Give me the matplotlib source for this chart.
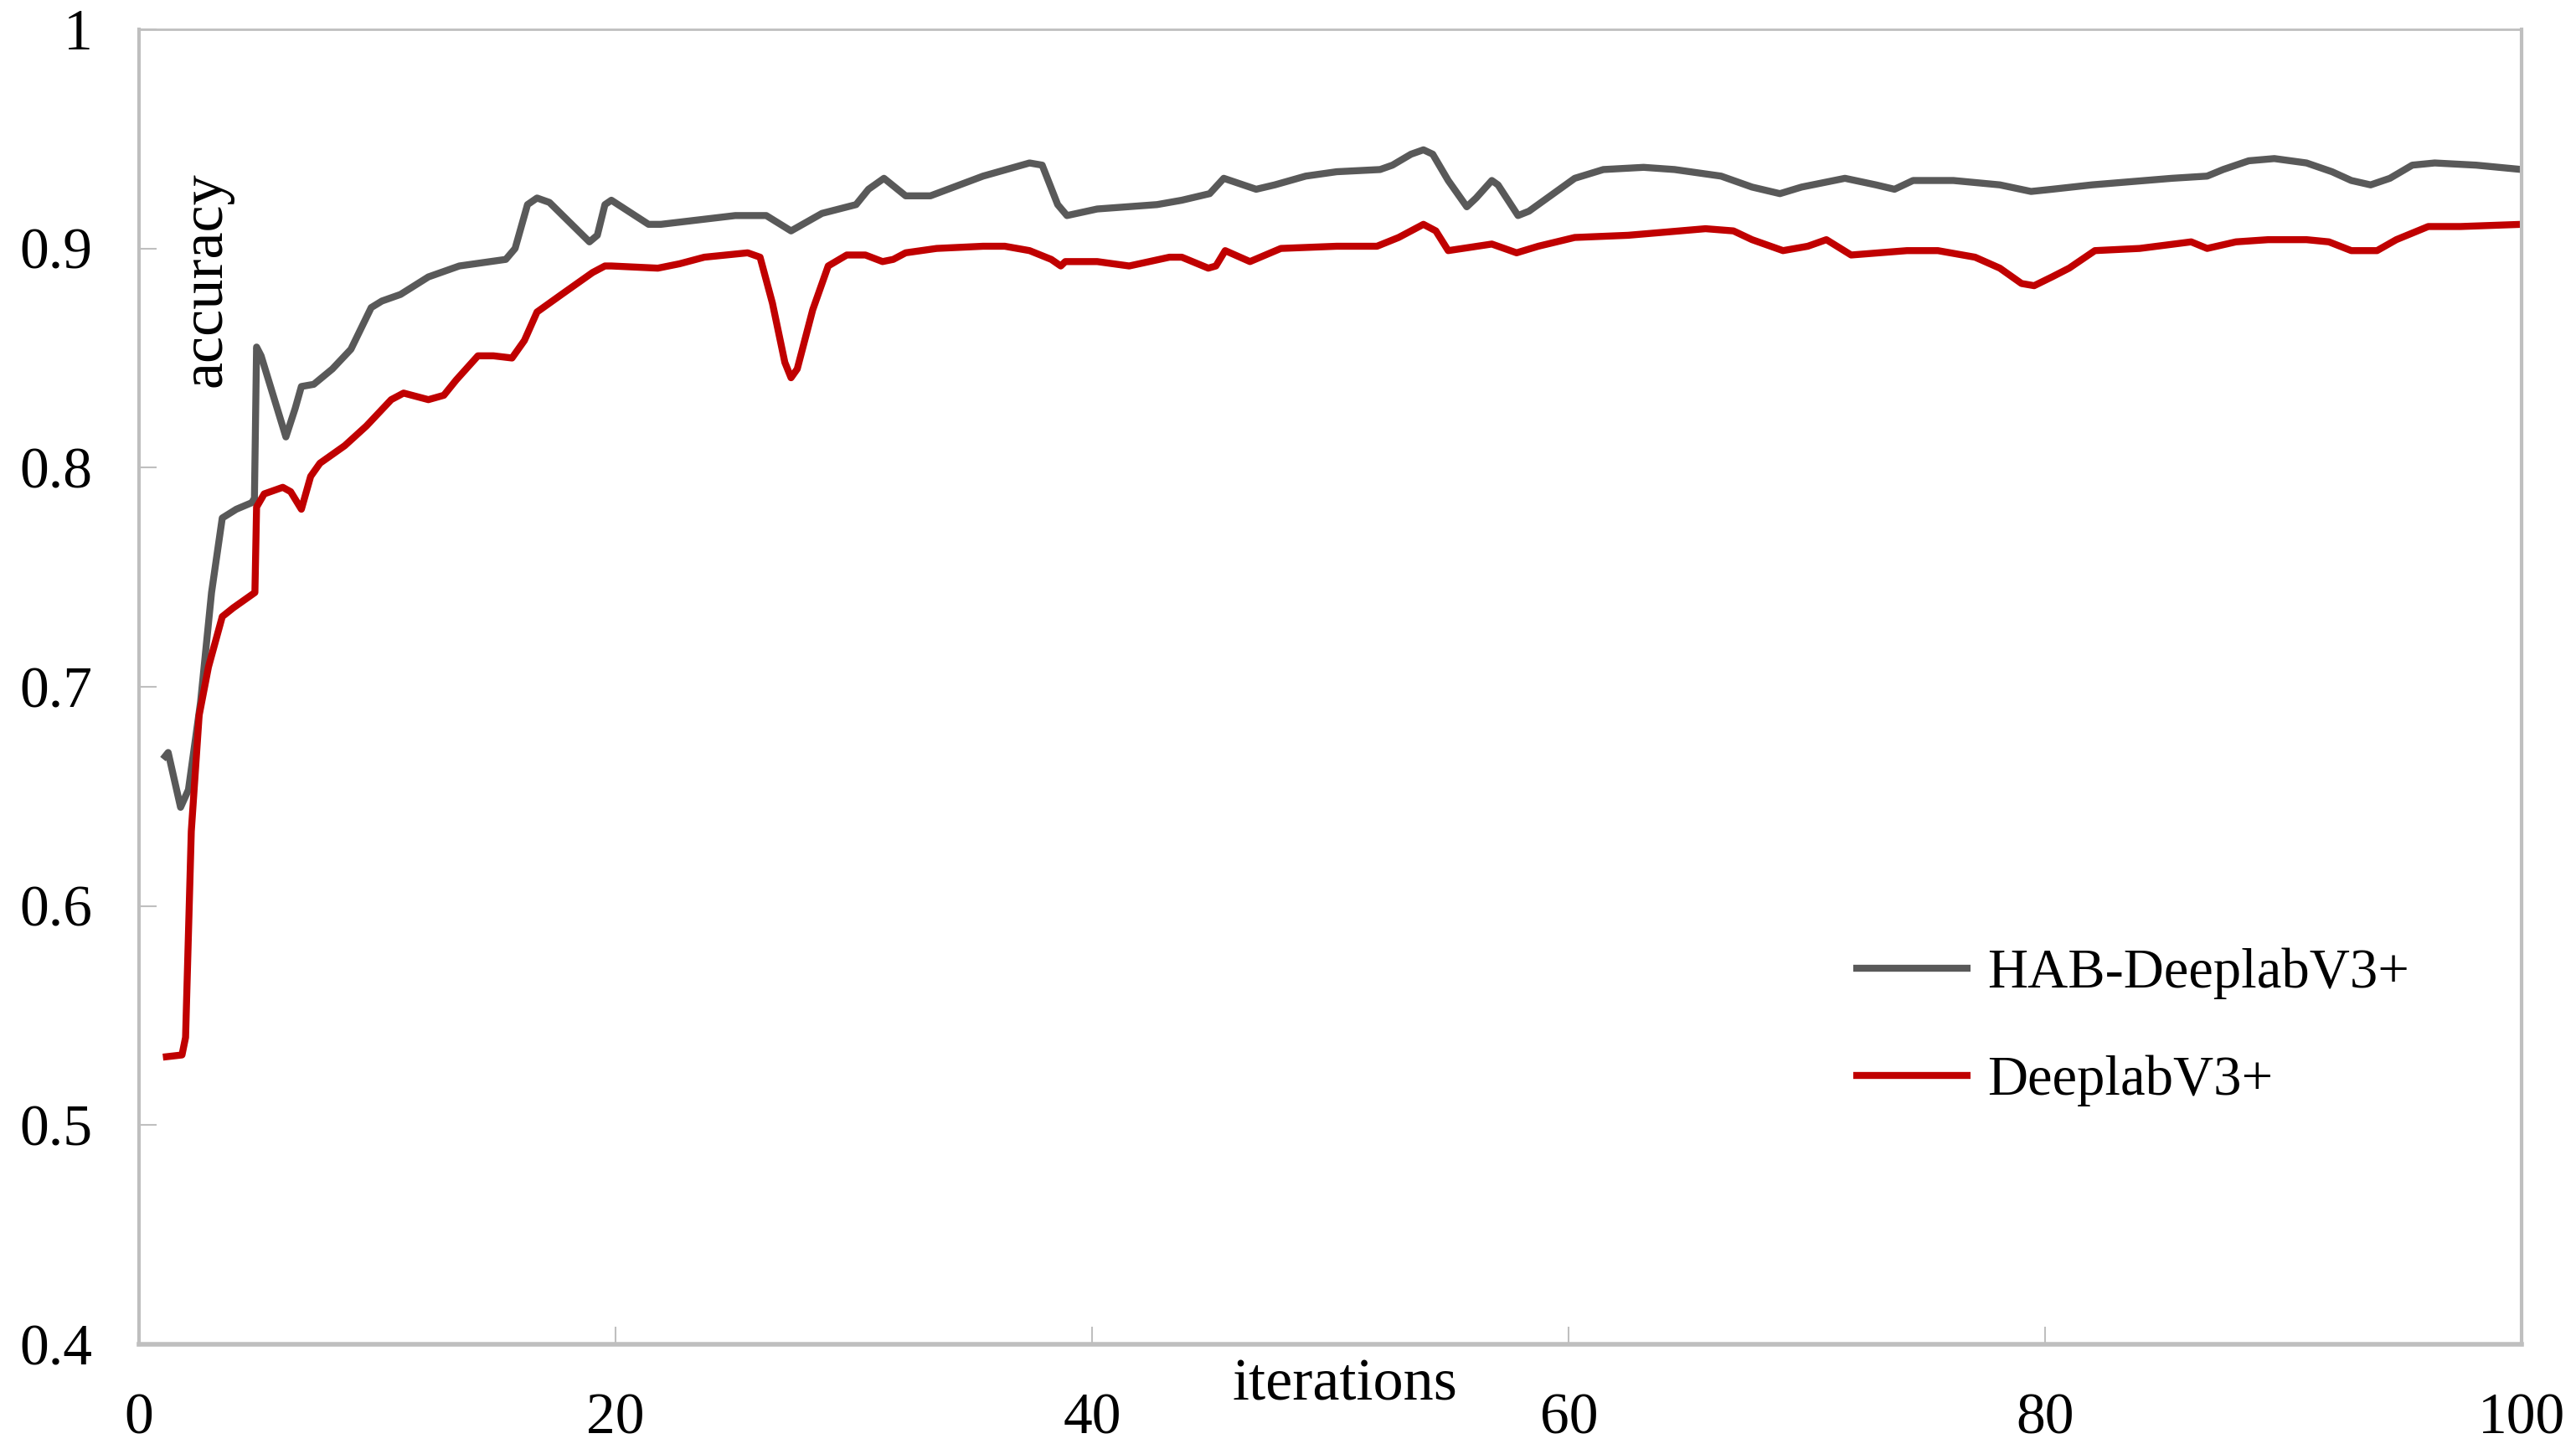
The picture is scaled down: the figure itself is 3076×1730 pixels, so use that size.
import matplotlib
matplotlib.use("Agg")
import matplotlib.pyplot as plt

# values
hab_x = [1.0, 1.22, 1.74, 2.07, 2.58, 3.04, 3.49, 4.08, 4.73, 4.84, 4.93, 5.12,
         6.16, 6.55, 6.81, 7.33, 8.11, 8.89, 9.74, 10.19, 10.97, 12.14, 13.44,
         15.39, 15.78, 16.3, 16.7, 17.22, 18.9, 19.23, 19.55, 19.82, 21.38, 21.9,
         25.02, 26.32, 27.36, 28.66, 30.09, 30.61, 31.26, 32.17, 33.21, 35.42,
         37.37, 37.9, 38.55, 38.94, 40.21, 42.72, 43.76, 44.93, 45.52, 46.88,
         47.66, 48.96, 50.26, 52.08, 52.6, 53.38, 53.9, 54.29, 54.94, 55.72,
         56.11, 56.77, 57.03, 57.87, 58.33, 60.25, 61.45, 63.14, 64.44, 66.39,
         67.69, 68.86, 69.77, 71.59, 72.89, 73.67, 74.45, 76.14, 78.09, 79.4,
         80.28, 81.95, 85.31, 86.79, 87.46, 88.54, 89.61, 90.96, 92.03, 92.84,
         93.65, 94.46, 95.4, 96.34, 98.08, 100.0]
hab_acc = [0.667, 0.670, 0.645, 0.653, 0.693, 0.743, 0.777, 0.781, 0.784, 0.786, 0.855, 0.851,
           0.814, 0.827, 0.837, 0.838, 0.845, 0.854, 0.873, 0.876, 0.879, 0.887, 0.892,
           0.895, 0.900, 0.920, 0.923, 0.921, 0.903, 0.906, 0.920, 0.922, 0.911, 0.911,
           0.915, 0.915, 0.908, 0.916, 0.920, 0.927, 0.932, 0.924, 0.924, 0.933,
           0.939, 0.938, 0.920, 0.915, 0.918, 0.920, 0.922, 0.925, 0.932, 0.927,
           0.929, 0.933, 0.935, 0.936, 0.938, 0.943, 0.945, 0.943, 0.931, 0.919,
           0.923, 0.931, 0.929, 0.915, 0.917, 0.932, 0.936, 0.937, 0.936, 0.933,
           0.928, 0.925, 0.928, 0.932, 0.929, 0.927, 0.931, 0.931, 0.929, 0.926,
           0.927, 0.929, 0.932, 0.933, 0.936, 0.940, 0.941, 0.939, 0.935, 0.931,
           0.929, 0.932, 0.938, 0.939, 0.938, 0.936]

base_x = [1.0, 1.80, 1.95, 2.19, 2.52, 2.91, 3.49, 3.95, 4.86, 4.93, 5.25, 6.03,
          6.36, 6.81, 7.2, 7.59, 8.63, 9.54, 10.58, 11.1, 12.14, 12.79, 13.31,
          14.22, 14.87, 15.65, 16.17, 16.7, 17.73, 19.03, 19.55, 19.82, 21.77,
          22.68, 23.72, 25.54, 26.06, 26.58, 27.1, 27.36, 27.62, 28.27, 28.92,
          29.7, 30.48, 31.2, 31.65, 32.17, 33.47, 35.42, 36.33, 37.37, 38.28,
          38.68, 38.87, 40.21, 41.55, 43.24, 43.76, 44.87, 45.19, 45.58, 46.62,
          47.92, 50.26, 51.95, 52.86, 53.9, 54.42, 54.94, 56.77, 57.03, 57.81,
          58.72, 60.25, 62.49, 65.74, 66.91, 67.69, 68.99, 70.03, 70.81, 71.85,
          74.19, 75.49, 77.05, 78.09, 79.0, 79.53, 80.28, 81.0, 82.08, 83.96,
          86.12, 86.79, 88.0, 89.35, 90.96, 91.9, 92.84, 93.92, 94.73, 96.07,
          97.42, 100.0]
base_acc = [0.531, 0.532, 0.540, 0.634, 0.687, 0.709, 0.732, 0.736, 0.743, 0.782, 0.788, 0.791,
            0.789, 0.781, 0.796, 0.802, 0.810, 0.819, 0.831, 0.834, 0.831, 0.833, 0.840,
            0.851, 0.851, 0.850, 0.858, 0.871, 0.879, 0.889, 0.892, 0.892, 0.891,
            0.893, 0.896, 0.898, 0.896, 0.875, 0.848, 0.841, 0.845, 0.872, 0.892,
            0.897, 0.897, 0.894, 0.895, 0.898, 0.900, 0.901, 0.901, 0.899, 0.895,
            0.892, 0.894, 0.894, 0.892, 0.896, 0.896, 0.891, 0.892, 0.899, 0.894,
            0.900, 0.901, 0.901, 0.905, 0.911, 0.908, 0.899, 0.902, 0.901, 0.898,
            0.901, 0.905, 0.906, 0.909, 0.908, 0.904, 0.899, 0.901, 0.904, 0.897,
            0.899, 0.899, 0.896, 0.891, 0.884, 0.883, 0.887, 0.891, 0.899, 0.900,
            0.903, 0.900, 0.903, 0.904, 0.904, 0.903, 0.899, 0.899, 0.904, 0.910,
            0.910, 0.911]

labels = ["HAB-DeeplabV3+", "DeeplabV3+"]
x_ticks = [0, 20, 40, 60, 80, 100]
y_ticks = [0.4, 0.5, 0.6, 0.7, 0.8, 0.9, 1.0]
y_tick_labels = ["0.4", "0.5", "0.6", "0.7", "0.8", "0.9", "1"]

plt.rcParams['font.family'] = ['Liberation Serif', 'DejaVu Serif']

fig = plt.figure(figsize=(30.76, 17.30), dpi=100)
ax = fig.add_axes([0.054, 0.0723, 0.925, 0.9075])

ax.plot(hab_x, hab_acc, color='#595959', lw=6, solid_joinstyle='round',
        solid_capstyle='butt', label=labels[0])
ax.plot(base_x, base_acc, color='#C00000', lw=6, solid_joinstyle='round',
        solid_capstyle='butt', label=labels[1])

ax.set_xlim(0, 100)
ax.set_ylim(0.4, 1.0)
ax.set_xticks(x_ticks)
ax.set_yticks(y_ticks)
ax.set_yticklabels(y_tick_labels)
ax.tick_params(direction='in', length=15, width=1.5, color='#BFBFBF', labelsize=50, pad=40)
ax.tick_params(axis='x', pad=42)

for side, w in [('left', 3), ('right', 3), ('bottom', 4), ('top', 2)]:
    ax.spines[side].set_color('#BFBFBF')
    ax.spines[side].set_linewidth(w)

ax.set_xlabel("iterations", fontsize=52, va='center')
ax.xaxis.set_label_coords(0.506, -0.031)
ax.set_ylabel("accuracy", fontsize=52, va='center', rotation_mode='default')
ax.yaxis.set_label_coords(0.028, 0.81)

ax.legend(loc='center left', bbox_to_anchor=(0.7195, 0.241), frameon=False, fontsize=48,
          handlelength=2.1, handletextpad=0.3, labelspacing=1.0, borderpad=0, borderaxespad=0)

fig.savefig("out.png", dpi=100, facecolor='white')
